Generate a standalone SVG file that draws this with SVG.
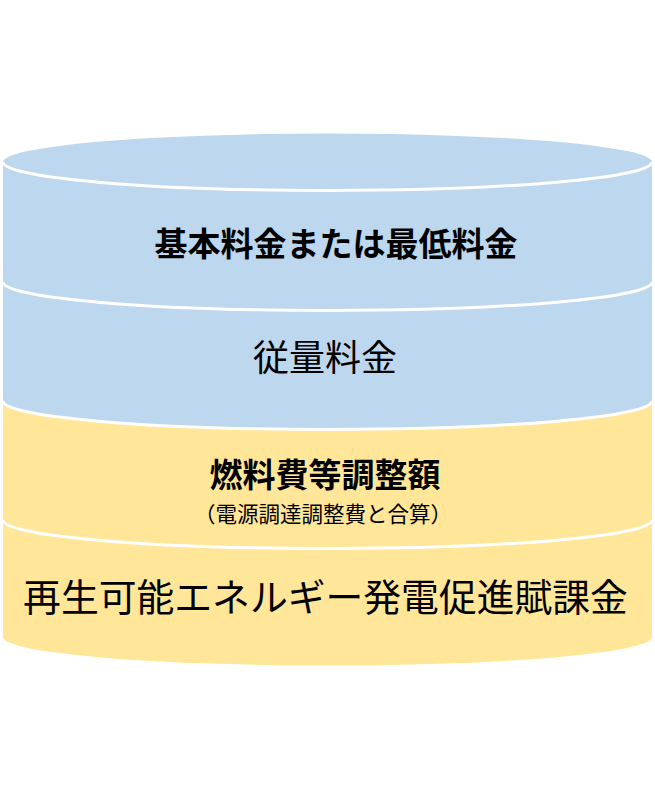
<svg xmlns="http://www.w3.org/2000/svg" width="655" height="802" viewBox="0 0 655 802">
<style>
.blue{fill:#BDD7EE}
.yellow{fill:#FFE699}
.sep{fill:none;stroke:#FFFFFF;stroke-width:3}
text{font-family:"Noto Sans CJK JP","Noto Sans",sans-serif;fill:#000;text-anchor:middle}
.b{font-weight:bold}
</style>
<rect width="655" height="802" fill="#FFFFFF"/>
<g id="layer-renewable">
<path class="yellow" d="M3,401 L3,637 A324.5,28.5 0 0 0 652,637 L652,401 Z"/>
<text x="325.5" y="611" font-size="37.8">再生可能エネルギー発電促進賦課金</text>
</g>
<g id="layer-fuel">
<path class="yellow" d="M3,401 L3,520 A324.5,28.5 0 0 0 652,520 L652,401 Z"/>
<text class="b" x="325" y="487" font-size="33">燃料費等調整額</text>
<text x="323" y="521.5" font-size="21.5">（電源調達調整費と合算）</text>
</g>
<g id="layer-usage">
<path class="blue" d="M3,282 L3,401 A324.5,28.5 0 0 0 652,401 L652,282 Z"/>
<text x="325" y="371" font-size="36">従量料金</text>
</g>
<g id="layer-basic">
<path class="blue" d="M3,162 L3,282 A324.5,28.5 0 0 0 652,282 L652,162 Z"/>
<ellipse class="blue" cx="327.5" cy="162" rx="324.5" ry="28.5"/>
<text class="b" x="336" y="255.5" font-size="33">基本料金または最低料金</text>
</g>
<g id="connectors">
<path class="sep" d="M3,162 A324.5,28.5 0 0 0 652,162"/>
<path class="sep" d="M3,282 A324.5,28.5 0 0 0 652,282"/>
<path class="sep" d="M3,401 A324.5,28.5 0 0 0 652,401"/>
<path class="sep" d="M3,520 A324.5,28.5 0 0 0 652,520"/>
</g>
</svg>
